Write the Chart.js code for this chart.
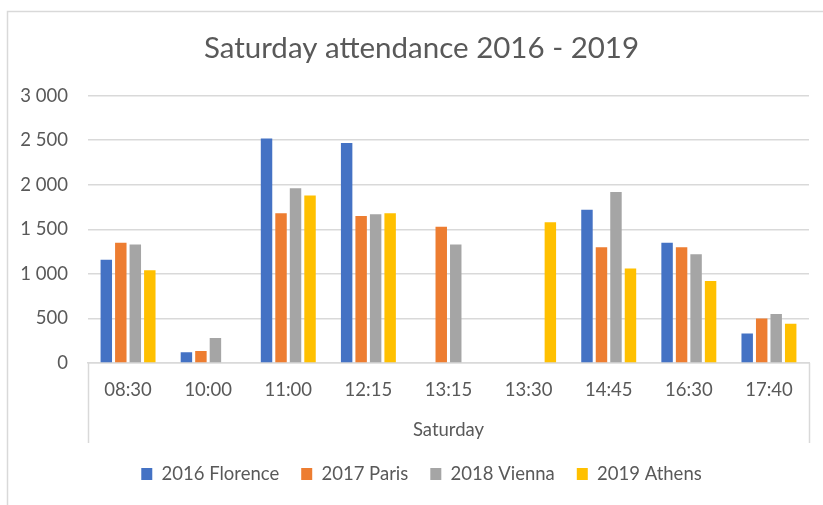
<!DOCTYPE html>
<html>
<head>
<meta charset="utf-8">
<script src="https://cdn.jsdelivr.net/npm/chart.js@4.4.1/dist/chart.umd.min.js"></script>
<style>
  html, body { margin: 0; padding: 0; background: #ffffff; }
  #wrap { position: relative; width: 823px; height: 505px; }
</style>
</head>
<body>
<div id="wrap"><canvas id="c" width="823" height="505"></canvas></div>
<script>
const categories = ['08:30', '10:00', '11:00', '12:15', '13:15', '13:30', '14:45', '16:30', '17:40'];
const seriesNames = ['2016 Florence', '2017 Paris', '2018 Vienna', '2019 Athens'];
const florence2016 = [1160, 120, 2520, 2470, null, null, 1720, 1350, 330];
const paris2017    = [1350, 135, 1680, 1650, 1530, null, 1300, 1300, 500];
const vienna2018   = [1330, 280, 1960, 1670, 1330, null, 1920, 1220, 550];
const athens2019   = [1040, null, 1880, 1680, null, 1580, 1060, 920, 440];
const seriesColors = ['#4472C4', '#ED7D31', '#A5A5A5', '#FFC000'];
const yTickValues = [0, 500, 1000, 1500, 2000, 2500, 3000];
const chartTitle = 'Saturday attendance 2016 - 2019';
const axisGroupLabel = 'Saturday';

const FONT = 'Lato, "Open Sans", sans-serif';
const TEXT = '#595959';
const GRID = '#d9d9d9';
const SMALL = 18.5;

const fmt = v => String(v).replace(/\B(?=(\d{3})+(?!\d))/g, ' ');

const frame = {
  id: 'frame',
  beforeDraw(chart) {
    const ctx = chart.ctx;
    ctx.save();
    ctx.strokeStyle = GRID;
    ctx.lineWidth = 1.5;
    ctx.strokeRect(7.5, 11.5, chart.width + 20, chart.height + 20);
    ctx.restore();
  },
  afterDraw(chart) {
    const a = chart.chartArea;
    const ctx = chart.ctx;
    ctx.save();
    ctx.strokeStyle = GRID;
    ctx.lineWidth = 1.5;
    ctx.beginPath();
    ctx.moveTo(Math.round(a.left) + 0.5, a.bottom);
    ctx.lineTo(Math.round(a.left) + 0.5, a.bottom + 80);
    ctx.moveTo(Math.round(a.right) + 0.5, a.bottom);
    ctx.lineTo(Math.round(a.right) + 0.5, a.bottom + 80);
    ctx.stroke();
    ctx.restore();
  }
};

const dataSeries = [florence2016, paris2017, vienna2018, athens2019];

new Chart(document.getElementById('c'), {
  type: 'bar',
  data: {
    labels: categories,
    datasets: dataSeries.map((d, i) => ({
      label: seriesNames[i],
      data: d,
      backgroundColor: seriesColors[i],
      borderWidth: 0,
      categoryPercentage: 0.724,
      barPercentage: 0.79
    }))
  },
  options: {
    responsive: false,
    animation: false,
    devicePixelRatio: 1,
    layout: { padding: { left: 20, right: 0, top: 0, bottom: 11.75 } },
    plugins: {
      title: {
        display: true,
        text: chartTitle,
        color: TEXT,
        font: { family: FONT, size: 29.5, weight: 'normal', lineHeight: 1.2 },
        padding: { top: 30.3, bottom: 30 }
      },
      legend: {
        display: true,
        position: 'bottom',
        labels: {
          color: TEXT,
          font: { family: FONT, size: SMALL },
          boxWidth: 11,
          boxHeight: 12,
          padding: 22
        }
      },
      tooltip: { enabled: false }
    },
    scales: {
      x: {
        grid: { display: true, drawOnChartArea: false, drawTicks: false, color: 'transparent' },
        border: { display: true, color: GRID, width: 1.5 },
        ticks: { color: TEXT, font: { family: FONT, size: SMALL }, padding: 15.9, maxRotation: 0, autoSkip: false },
        title: {
          display: true,
          text: axisGroupLabel,
          color: TEXT,
          font: { family: FONT, size: SMALL, lineHeight: 1.2 },
          padding: { top: 0, bottom: 1.65 }
        },
        afterFit(s) { s.height = 79.75; }
      },
      y: {
        min: 0,
        max: 3000,
        afterBuildTicks(s) { s.ticks = yTickValues.map(v => ({ value: v })); },
        grid: { color: GRID, lineWidth: 1.5, drawTicks: false },
        border: { display: false },
        ticks: { color: TEXT, font: { family: FONT, size: SMALL }, padding: 20, callback: v => fmt(v) },
        afterFit(s) { s.width = 68; }
      },
      yRight: {
        type: 'linear',
        position: 'right',
        display: true,
        min: 0,
        max: 3000,
        grid: { display: false, drawOnChartArea: false, drawTicks: false },
        border: { display: false },
        ticks: { display: false },
        afterFit(s) { s.width = 14; }
      }
    }
  },
  plugins: [frame]
});
</script>
</body>
</html>
